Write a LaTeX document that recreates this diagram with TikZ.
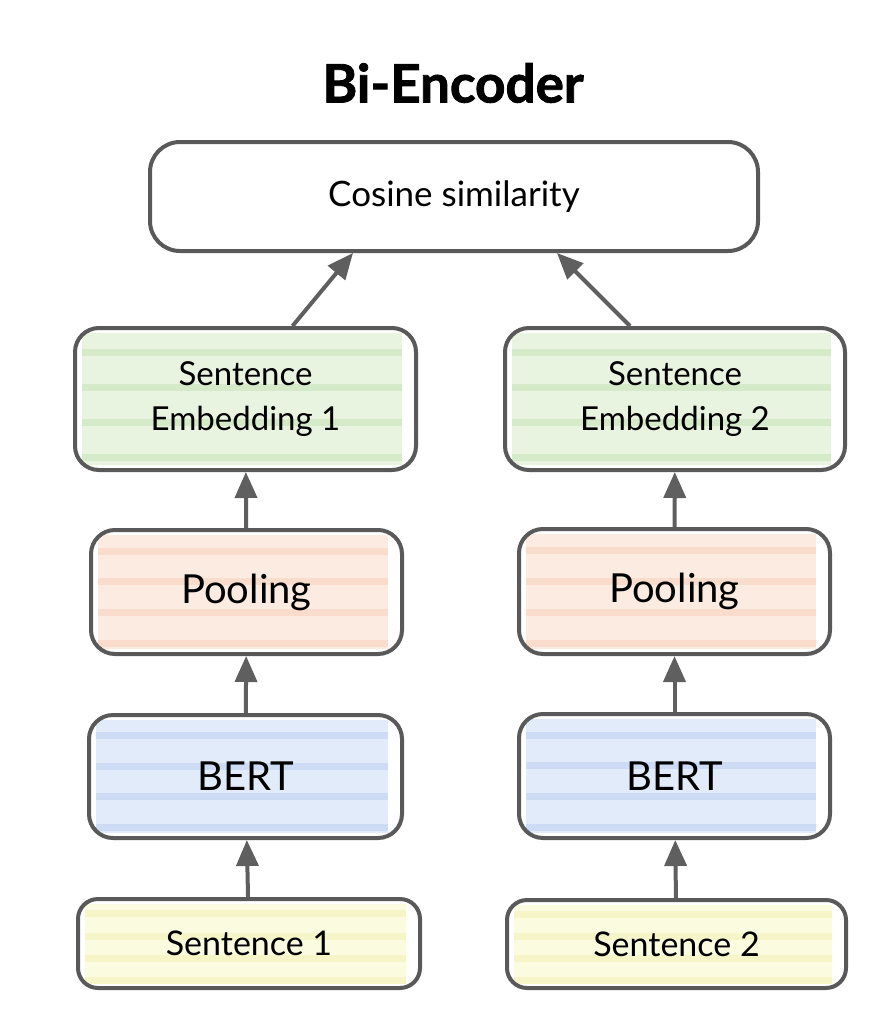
\documentclass[tikz,border=0pt]{standalone}
\usepackage{fontspec}
\setmainfont{Lato}
\newfontfamily\titlefont[BoldFeatures={FakeBold=1.6}]{Lato}
\usetikzlibrary{positioning,arrows.meta,calc,backgrounds}
\definecolor{linegray}{HTML}{595959}
\definecolor{arrowgray}{HTML}{5F5F5F}
\definecolor{embfill}{HTML}{E8F3E0}
\definecolor{embstripe}{HTML}{D5EAC8}
\definecolor{poolfill}{HTML}{FCEBE1}
\definecolor{poolstripe}{HTML}{F9DCCB}
\definecolor{bertfill}{HTML}{E2EBF9}
\definecolor{bertstripe}{HTML}{CDDCF4}
\definecolor{sentfill}{HTML}{FBFBDF}
\definecolor{sentstripe}{HTML}{F5F5C8}
\newcommand{\fsize}[1]{\fontsize{#1}{1.36\dimexpr#1pt\relax}\selectfont}
% highlighter strokes behind a box
\newcommand{\hilite}[3]{
  \fill[#2] ([xshift=9pt,yshift=-7pt]#1.north west) rectangle ([xshift=-16pt,yshift=7pt]#1.south east);
  \foreach \f in {0.18,0.42,0.66,0.9}
    \draw[#3, line width=7pt] ($(#1.north west)!\f!(#1.south west)+(9pt,0)$) -- ($(#1.north east)!\f!(#1.south east)+(-16pt,0)$);
}
\tikzset{
  box/.style={
    draw=linegray,
    line width=4pt,
    rounded corners=24pt,
    align=center,
    inner sep=0pt
  },
  arr/.style={
    draw=arrowgray,
    line width=4pt,
    -{Triangle[length=26pt,width=22pt,fill=arrowgray]}
  }
}

\begin{document}
\begin{tikzpicture}[x=1pt,y=-1pt]
    \useasboundingbox (0,0) rectangle (892,1020);
    \node [font=\titlefont\fsize{53}\bfseries] (Title) at (453,83) {Bi-Encoder};
    \node [box, rounded corners=30pt, minimum width=608pt, minimum height=109pt, font=\fsize{35}] (Cos) at (454,196.5) {Cosine similarity};
    % left tower
    \node [box, minimum width=341pt, minimum height=142pt, font=\fsize{33}] (Emb1) at (245.5,399) {Sentence\\Embedding 1};
    \node [box, minimum width=311pt, minimum height=124pt, font=\fsize{40}] (Pool1) at (246.5,592) {Pooling};
    \node [box, minimum width=313pt, minimum height=123pt, font=\fsize{40}] (Bert1) at (245.5,776.5) {BERT};
    \node [box, rounded corners=20pt, minimum width=342pt, minimum height=89pt, font=\fsize{34}] (Sent1) at (249,943.5) {Sentence 1};
    % right tower
    \node [box, minimum width=340pt, minimum height=142pt, font=\fsize{33}] (Emb2) at (675,399) {Sentence\\Embedding 2};
    \node [box, minimum width=311pt, minimum height=125pt, font=\fsize{40}] (Pool2) at (674.5,591.5) {Pooling};
    \node [box, minimum width=311pt, minimum height=124pt, font=\fsize{40}] (Bert2) at (674.5,776) {BERT};
    \node [box, rounded corners=20pt, minimum width=339pt, minimum height=88pt, font=\fsize{34}] (Sent2) at (676.5,944) {Sentence 2};
    \begin{scope}[on background layer]
      \hilite{Emb1}{embfill}{embstripe}
      \hilite{Emb2}{embfill}{embstripe}
      \hilite{Pool1}{poolfill}{poolstripe}
      \hilite{Pool2}{poolfill}{poolstripe}
      \hilite{Bert1}{bertfill}{bertstripe}
      \hilite{Bert2}{bertfill}{bertstripe}
      \hilite{Sent1}{sentfill}{sentstripe}
      \hilite{Sent2}{sentfill}{sentstripe}
    \end{scope}
    \draw [arr] (Sent1) to (Bert1);
    \draw [arr] (Bert1) to (Pool1);
    \draw [arr] (Pool1) to (Emb1);
    \draw [arr] (Sent2) to (Bert2);
    \draw [arr] (Bert2) to (Pool2);
    \draw [arr] (Pool2) to (Emb2);
    \draw [arr] ([xshift=47pt]Emb1.north) to ([xshift=-101pt]Cos.south);
    \draw [arr] ([xshift=-45pt]Emb2.north) to ([xshift=103pt]Cos.south);
  \end{tikzpicture}
\end{document}
